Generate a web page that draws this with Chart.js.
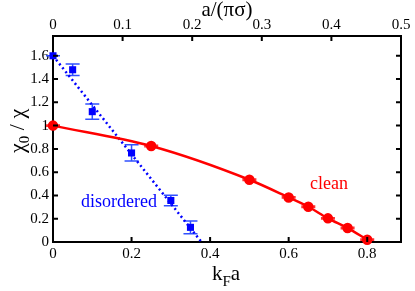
<!DOCTYPE html>
<html>
<head>
<script src="https://cdn.jsdelivr.net/npm/chart.js@4.4.0/dist/chart.umd.min.js"></script>
<style>html,body{margin:0}</style>
</head>
<body>
<div style="width:415px;height:291px"><canvas id="chart"></canvas></div>
<script>
// clean sample (red circles + fitted curve)
const cleanX = [0, 0.25, 0.5, 0.6, 0.65, 0.7, 0.75, 0.8];
const cleanY = [1.0, 0.825, 0.535, 0.383, 0.303, 0.203, 0.12, 0.02];
const cleanErr = [0.006, 0.006, 0.006, 0.006, 0.006, 0.006, 0.006, 0.006];

// disordered sample (blue squares + linear fit)
const disX = [0, 0.05, 0.1, 0.2, 0.3, 0.35];
const disY = [1.6, 1.48, 1.12, 0.765, 0.357, 0.126];
const disErr = [0, 0.05, 0.065, 0.07, 0.045, 0.055];
const disFitX = [0, 0.378];
const disFitY = [1.6, 0];

// axes
const kfaTicks = [0, 0.2, 0.4, 0.6, 0.8];
const topTicks = [0, 0.1, 0.2, 0.3, 0.4, 0.5];
const yTicks = [0, 0.2, 0.4, 0.6, 0.8, 1, 1.2, 1.4, 1.6];

const CHI = '\u03c7', PI = '\u03c0', SIGMA = '\u03c3';
const pts = (xs, ys) => xs.map((x, i) => ({ x: x, y: ys[i] }));
const fmt = v => String(Number(v.toFixed(2)));

const errorBars = {
  id: 'errorBars',
  beforeDatasetsDraw(chart) {
    const ctx = chart.ctx, xs = chart.scales.x, ys = chart.scales.y;
    ctx.save();
    chart.data.datasets.forEach(ds => {
      if (!ds.errors) return;
      ctx.strokeStyle = ds.errColor;
      ctx.lineWidth = 1.5;
      ds.data.forEach((p, i) => {
        const px = xs.getPixelForValue(p.x);
        const t = ys.getPixelForValue(p.y + ds.errors[i]);
        const b = ys.getPixelForValue(p.y - ds.errors[i]);
        ctx.beginPath();
        ctx.moveTo(px, t); ctx.lineTo(px, b);
        ctx.moveTo(px - 7, t); ctx.lineTo(px + 7, t);
        ctx.moveTo(px - 7, b); ctx.lineTo(px + 7, b);
        ctx.stroke();
      });
    });
    ctx.restore();
  }
};

// tick marks pointing into the plot, plus the axis titles and labels
const decor = {
  id: 'decor',
  afterDraw(chart) {
    const ctx = chart.ctx, a = chart.chartArea, s = chart.scales;
    ctx.save();
    ctx.strokeStyle = '#000';
    ctx.lineWidth = 2;
    ctx.beginPath();
    kfaTicks.forEach(v => { const p = s.x.getPixelForValue(v); ctx.moveTo(p, a.bottom); ctx.lineTo(p, a.bottom - 5); });
    topTicks.forEach(v => { const p = s.x2.getPixelForValue(v); ctx.moveTo(p, a.top); ctx.lineTo(p, a.top + 5); });
    yTicks.forEach(v => {
      const p = s.y.getPixelForValue(v);
      ctx.moveTo(a.left, p); ctx.lineTo(a.left + 5, p);
      ctx.moveTo(a.right, p); ctx.lineTo(a.right - 5, p);
    });
    ctx.stroke();

    ctx.fillStyle = '#000';
    ctx.textBaseline = 'alphabetic';
    ctx.font = '21px serif';
    ctx.textAlign = 'center';
    ctx.fillText('a/(' + PI + SIGMA + ')', 227, 16);
    ctx.textAlign = 'left';
    let x0 = 212;
    ctx.fillText('k', x0, 280);
    x0 += ctx.measureText('k').width;
    ctx.font = '15px serif';
    ctx.fillText('F', x0, 286);
    x0 += ctx.measureText('F').width;
    ctx.font = '21px serif';
    ctx.fillText('a', x0, 280);
    ctx.translate(24, 153);
    ctx.rotate(-Math.PI / 2);
    let y0 = 0;
    ctx.font = '22px serif';
    ctx.fillText(CHI, y0, 0);
    y0 += ctx.measureText(CHI).width;
    ctx.font = '15px serif';
    ctx.fillText('0', y0, 5);
    y0 += ctx.measureText('0').width;
    ctx.font = '22px serif';
    ctx.fillText(' / ' + CHI, y0, 0);
    ctx.setTransform(1, 0, 0, 1, 0, 0);
    ctx.font = '18px serif';
    ctx.fillStyle = '#0000ff';
    ctx.fillText('disordered', 81, 207);
    ctx.fillStyle = '#ff0000';
    ctx.fillText('clean', 310, 189);
    ctx.restore();
  }
};

const tickFont = { family: 'serif', size: 15 };
const frame = { color: '#000', width: 2 };
const noGrid = { drawOnChartArea: false, drawTicks: false };

new Chart(document.getElementById('chart'), {
  type: 'scatter',
  data: {
    datasets: [
      {
        label: 'disordered fit',
        data: pts(disFitX, disFitY),
        showLine: true,
        borderColor: '#0000ff',
        borderWidth: 2.5,
        borderDash: [2, 3],
        pointRadius: 0,
        order: 3
      },
      {
        label: 'clean',
        data: pts(cleanX, cleanY),
        showLine: true,
        cubicInterpolationMode: 'monotone',
        borderColor: '#ff0000',
        borderWidth: 2.5,
        pointRadius: 4,
        pointBackgroundColor: '#ff0000',
        pointBorderColor: '#ff0000',
        errors: cleanErr,
        errColor: '#ff3030',
        clip: false,
        order: 2
      },
      {
        label: 'disordered',
        data: pts(disX, disY),
        pointStyle: 'rect',
        pointRadius: 5,
        pointBackgroundColor: '#0000ff',
        pointBorderColor: '#0000ff',
        pointBorderWidth: 0,
        errors: disErr,
        errColor: '#3050ff',
        clip: false,
        order: 1
      }
    ]
  },
  options: {
    animation: false,
    maintainAspectRatio: false,
    layout: { padding: 0 },
    plugins: { legend: { display: false }, tooltip: { enabled: false } },
    scales: {
      x: {
        type: 'linear', position: 'bottom', min: 0, max: 0.886,
        grid: noGrid, border: frame,
        ticks: { stepSize: 0.2, includeBounds: false, font: tickFont, color: '#000', padding: 3, maxRotation: 0, callback: fmt },
        afterFit: s => { s.height = 49; }
      },
      x2: {
        type: 'linear', position: 'top', min: 0, max: 0.5,
        grid: noGrid, border: frame,
        ticks: { stepSize: 0.1, font: tickFont, color: '#000', padding: 2, maxRotation: 0, callback: fmt },
        afterFit: s => { s.height = 36; }
      },
      y: {
        type: 'linear', position: 'left', min: 0, max: 1.77,
        grid: noGrid, border: frame,
        ticks: { stepSize: 0.2, includeBounds: false, font: tickFont, color: '#000', padding: 4, callback: fmt },
        afterFit: s => { s.width = 53; }
      },
      y2: {
        type: 'linear', position: 'right', min: 0, max: 1.77,
        grid: noGrid, border: frame,
        ticks: { display: false, stepSize: 0.2 },
        afterFit: s => { s.width = 14; }
      }
    }
  },
  plugins: [errorBars, decor]
});
</script>
</body>
</html>
